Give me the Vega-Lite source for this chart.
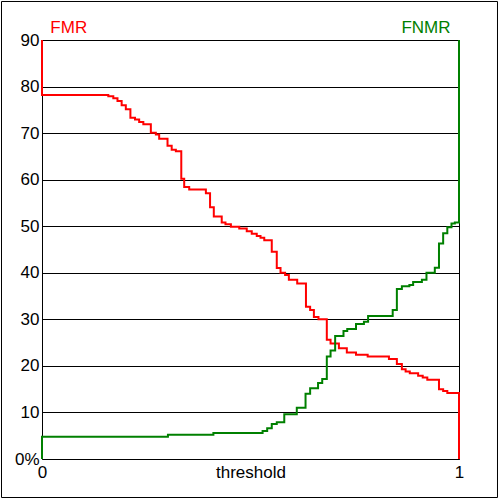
{
  "$schema": "https://vega.github.io/schema/vega-lite/v6.json",
  "width": 417,
  "height": 419,
  "autosize": {"type": "none"},
  "padding": {"left": 42, "top": 40, "right": 41, "bottom": 41},
  "background": "white",
  "config": {"view": {"stroke": "black", "strokeWidth": 1}, "font": "Liberation Sans"},
  "layer": [
    {
      "data": {"values": [{}]},
      "mark": {"type": "rect", "fillOpacity": 0, "stroke": "black", "strokeWidth": 1},
      "encoding": {
        "x": {"datum": -0.0971},
        "x2": {"datum": 1.0923},
        "y": {"datum": 98.27},
        "y2": {"datum": -8.27}
      }
    },
    {
      "data": {"values": [
        {"s": "FMR", "i": 0, "t": 0, "v": 90},
        {"s": "FMR", "i": 1, "t": 0, "v": 78.2},
        {"s": "FMR", "i": 2, "t": 0.159, "v": 77.9},
        {"s": "FMR", "i": 3, "t": 0.171, "v": 77.5},
        {"s": "FMR", "i": 4, "t": 0.181, "v": 76.9},
        {"s": "FMR", "i": 5, "t": 0.191, "v": 76.0},
        {"s": "FMR", "i": 6, "t": 0.201, "v": 75.1},
        {"s": "FMR", "i": 7, "t": 0.212, "v": 73.3},
        {"s": "FMR", "i": 8, "t": 0.223, "v": 72.9},
        {"s": "FMR", "i": 9, "t": 0.233, "v": 72.4},
        {"s": "FMR", "i": 10, "t": 0.243, "v": 71.9},
        {"s": "FMR", "i": 11, "t": 0.261, "v": 70.1},
        {"s": "FMR", "i": 12, "t": 0.273, "v": 69.7},
        {"s": "FMR", "i": 13, "t": 0.281, "v": 68.8},
        {"s": "FMR", "i": 14, "t": 0.301, "v": 67.3},
        {"s": "FMR", "i": 15, "t": 0.311, "v": 66.4},
        {"s": "FMR", "i": 16, "t": 0.321, "v": 66.1},
        {"s": "FMR", "i": 17, "t": 0.334, "v": 60.2},
        {"s": "FMR", "i": 18, "t": 0.341, "v": 58.4},
        {"s": "FMR", "i": 19, "t": 0.353, "v": 57.9},
        {"s": "FMR", "i": 20, "t": 0.393, "v": 57.1},
        {"s": "FMR", "i": 21, "t": 0.403, "v": 54.1},
        {"s": "FMR", "i": 22, "t": 0.412, "v": 52.1},
        {"s": "FMR", "i": 23, "t": 0.431, "v": 50.8},
        {"s": "FMR", "i": 24, "t": 0.440, "v": 50.4},
        {"s": "FMR", "i": 25, "t": 0.453, "v": 49.9},
        {"s": "FMR", "i": 26, "t": 0.473, "v": 49.5},
        {"s": "FMR", "i": 27, "t": 0.491, "v": 48.9},
        {"s": "FMR", "i": 28, "t": 0.503, "v": 48.4},
        {"s": "FMR", "i": 29, "t": 0.515, "v": 47.9},
        {"s": "FMR", "i": 30, "t": 0.524, "v": 47.5},
        {"s": "FMR", "i": 31, "t": 0.533, "v": 47.0},
        {"s": "FMR", "i": 32, "t": 0.551, "v": 44.5},
        {"s": "FMR", "i": 33, "t": 0.563, "v": 41.0},
        {"s": "FMR", "i": 34, "t": 0.572, "v": 40.0},
        {"s": "FMR", "i": 35, "t": 0.583, "v": 39.5},
        {"s": "FMR", "i": 36, "t": 0.592, "v": 38.5},
        {"s": "FMR", "i": 37, "t": 0.612, "v": 37.7},
        {"s": "FMR", "i": 38, "t": 0.633, "v": 32.7},
        {"s": "FMR", "i": 39, "t": 0.643, "v": 32.0},
        {"s": "FMR", "i": 40, "t": 0.652, "v": 30.5},
        {"s": "FMR", "i": 41, "t": 0.663, "v": 30.0},
        {"s": "FMR", "i": 42, "t": 0.683, "v": 25.6},
        {"s": "FMR", "i": 43, "t": 0.692, "v": 24.8},
        {"s": "FMR", "i": 44, "t": 0.712, "v": 23.8},
        {"s": "FMR", "i": 45, "t": 0.731, "v": 22.9},
        {"s": "FMR", "i": 46, "t": 0.753, "v": 22.4},
        {"s": "FMR", "i": 47, "t": 0.781, "v": 22.0},
        {"s": "FMR", "i": 48, "t": 0.832, "v": 21.5},
        {"s": "FMR", "i": 49, "t": 0.851, "v": 20.4},
        {"s": "FMR", "i": 50, "t": 0.863, "v": 19.3},
        {"s": "FMR", "i": 51, "t": 0.872, "v": 18.8},
        {"s": "FMR", "i": 52, "t": 0.882, "v": 18.4},
        {"s": "FMR", "i": 53, "t": 0.902, "v": 17.9},
        {"s": "FMR", "i": 54, "t": 0.913, "v": 17.5},
        {"s": "FMR", "i": 55, "t": 0.924, "v": 17.0},
        {"s": "FMR", "i": 56, "t": 0.952, "v": 15.0},
        {"s": "FMR", "i": 57, "t": 0.962, "v": 14.6},
        {"s": "FMR", "i": 58, "t": 0.972, "v": 14.2},
        {"s": "FMR", "i": 59, "t": 1, "v": 14.2},
        {"s": "FMR", "i": 60, "t": 1, "v": 0},
        {"s": "FNMR", "i": 0, "t": 0, "v": 0},
        {"s": "FNMR", "i": 1, "t": 0, "v": 4.8},
        {"s": "FNMR", "i": 2, "t": 0.302, "v": 5.2},
        {"s": "FNMR", "i": 3, "t": 0.411, "v": 5.6},
        {"s": "FNMR", "i": 4, "t": 0.529, "v": 6.0},
        {"s": "FNMR", "i": 5, "t": 0.540, "v": 6.6},
        {"s": "FNMR", "i": 6, "t": 0.551, "v": 7.5},
        {"s": "FNMR", "i": 7, "t": 0.563, "v": 7.9},
        {"s": "FNMR", "i": 8, "t": 0.581, "v": 9.6},
        {"s": "FNMR", "i": 9, "t": 0.611, "v": 11.0},
        {"s": "FNMR", "i": 10, "t": 0.632, "v": 14.0},
        {"s": "FNMR", "i": 11, "t": 0.643, "v": 15.2},
        {"s": "FNMR", "i": 12, "t": 0.662, "v": 16.3},
        {"s": "FNMR", "i": 13, "t": 0.672, "v": 17.2},
        {"s": "FNMR", "i": 14, "t": 0.683, "v": 22.0},
        {"s": "FNMR", "i": 15, "t": 0.692, "v": 23.3},
        {"s": "FNMR", "i": 16, "t": 0.703, "v": 26.4},
        {"s": "FNMR", "i": 17, "t": 0.723, "v": 27.5},
        {"s": "FNMR", "i": 18, "t": 0.732, "v": 27.9},
        {"s": "FNMR", "i": 19, "t": 0.753, "v": 29.0},
        {"s": "FNMR", "i": 20, "t": 0.772, "v": 29.5},
        {"s": "FNMR", "i": 21, "t": 0.782, "v": 30.7},
        {"s": "FNMR", "i": 22, "t": 0.841, "v": 32.0},
        {"s": "FNMR", "i": 23, "t": 0.851, "v": 36.5},
        {"s": "FNMR", "i": 24, "t": 0.863, "v": 37.1},
        {"s": "FNMR", "i": 25, "t": 0.881, "v": 37.4},
        {"s": "FNMR", "i": 26, "t": 0.890, "v": 38.0},
        {"s": "FNMR", "i": 27, "t": 0.911, "v": 38.5},
        {"s": "FNMR", "i": 28, "t": 0.922, "v": 40.0},
        {"s": "FNMR", "i": 29, "t": 0.942, "v": 41.1},
        {"s": "FNMR", "i": 30, "t": 0.952, "v": 46.3},
        {"s": "FNMR", "i": 31, "t": 0.962, "v": 48.5},
        {"s": "FNMR", "i": 32, "t": 0.972, "v": 49.8},
        {"s": "FNMR", "i": 33, "t": 0.982, "v": 50.6},
        {"s": "FNMR", "i": 34, "t": 0.990, "v": 50.8},
        {"s": "FNMR", "i": 35, "t": 1, "v": 50.8},
        {"s": "FNMR", "i": 36, "t": 1, "v": 90}
      ]},
      "mark": {"type": "line", "interpolate": "step-after", "strokeWidth": 2},
      "encoding": {
        "x": {
          "field": "t", "type": "quantitative",
          "scale": {"domain": [0, 1]},
          "axis": {
            "values": [0, 0.5, 1],
            "labelExpr": "datum.value == 0.5 ? 'threshold' : format(datum.value, 'd')",
            "ticks": false, "domain": false, "grid": false, "title": null,
            "labelFlush": false, "labelOverlap": false, "labelPadding": 5,
            "labelFontSize": 17, "labelColor": "black", "labelFont": "Liberation Sans"
          }
        },
        "y": {
          "field": "v", "type": "quantitative",
          "scale": {"domain": [0, 90]},
          "axis": {
            "values": [0, 5, 10, 15, 20, 25, 30, 35, 40, 45, 50, 55, 60, 65, 70, 75, 80, 85, 90],
            "labelExpr": "datum.value == 0 ? '0%' : (datum.value % 10 == 0 ? format(datum.value, 'd') : '')",
            "ticks": false, "domain": false, "grid": true, "title": null,
            "gridColor": {"condition": {"test": "datum.value % 10 == 0", "value": "black"}, "value": "#c0c0c0"},
            "gridWidth": 1,
            "labelOverlap": false, "labelPadding": 3,
            "labelFontSize": 17, "labelColor": "black", "labelFont": "Liberation Sans"
          }
        },
        "color": {
          "field": "s", "type": "nominal",
          "scale": {"domain": ["FMR", "FNMR"], "range": ["#ff0000", "#008000"]},
          "legend": null
        },
        "order": {"field": "i", "type": "quantitative"}
      }
    },
    {
      "data": {"values": [{"label": "FMR"}]},
      "mark": {"type": "text", "align": "left", "baseline": "alphabetic", "fontSize": 17, "font": "Liberation Sans", "color": "#ff0000"},
      "encoding": {
        "x": {"datum": 0.020},
        "y": {"datum": 91.4},
        "text": {"field": "label"}
      }
    },
    {
      "data": {"values": [{"label": "FNMR"}]},
      "mark": {"type": "text", "align": "right", "baseline": "alphabetic", "fontSize": 17, "font": "Liberation Sans", "color": "#008000"},
      "encoding": {
        "x": {"datum": 0.9796},
        "y": {"datum": 91.4},
        "text": {"field": "label"}
      }
    }
  ]
}
